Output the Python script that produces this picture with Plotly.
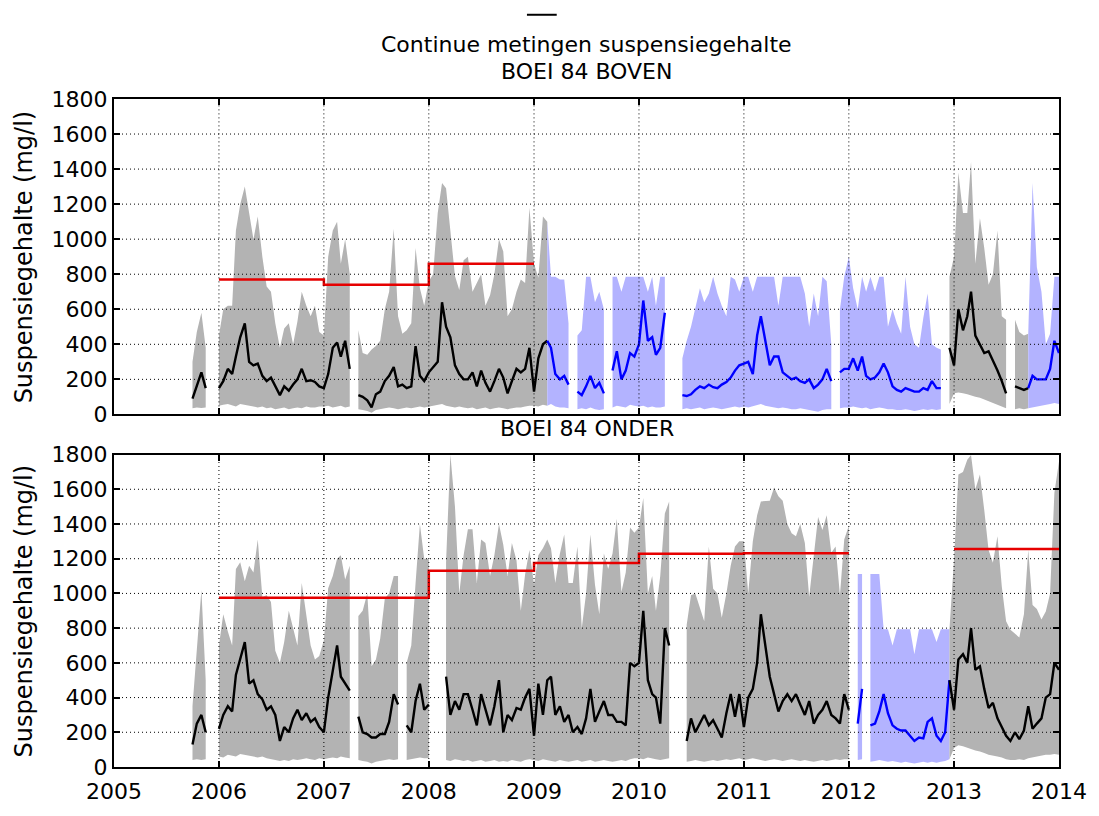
import plotly.graph_objects as go

# ---------------- time grid: 1st and 16th of every month ----------------
grid_dates = [f"{y}-{m:02d}-{d:02d}" for y in range(2005, 2014) for m in range(1, 13)
              for d in (1, 16) if (y, m) >= (2005, 10)] + ["2014-01-01"]

years = list(range(2005, 2015))
y_ticks = list(range(0, 2000, 200))

# ---------------- BOEI 84 BOVEN ----------------
boven_hi = (
    [300, 470, 580, 380, None, None] +
    [450, 600, 620, 620, 1050, 1200, 1300, 1140, 1000, 1130, 900, 730, 700, 520, 380, 490, 520, 400, 530, 700, 620, 560, 620, 470] +
    [450, 900, 1050, 1100, 860, 1000, 800, None, 480, 350, 340, 370, 390, 420, 600, 700, 1060, 560, 460, 480, 520, 950, 720, 620] +
    [760, 800, 1150, 1320, 1290, 1050, 790, 710, 880, 900, 700, 750, 800, 620, 680, 800, 1000, 930, 560, 600, 700, 770, 750, 1180] +
    [860, 780, 1130, 1100, 785, 785, 770, 770, 520, None, 450, 480, 785, 785, 640, 700, 600, None, 785, 785, 700, 785, 785, 785] +
    [785, 785, 700, 785, 620, 785, 785, None, None, None, 320, 420, 500, 600, 720, 640, 690, 785, 690, 620, 560, 785, 770, 700] +
    [785, 785, 700, 785, 785, 785, 785, 785, 620, 785, 785, 785, 785, 785, 690, 500, 690, 560, 785, 760, 400, None, 600, 785] +
    [900, 720, 600, 785, 700, 785, 700, 785, 785, 500, 600, 520, 460, 785, 500, 400, 380, 550, 690, 400, 380, 370, None, 785] +
    [900, 1380, 1150, 1150, 1440, 860, 1120, 950, 740, 800, 1050, 560, 540, None, 540, 470, 450, 460, 1320, 840, 700, 400, 460, 785] +
    [785]
)
boven_mean = (
    [90, 160, 240, 150, None, None] +
    [150, 190, 260, 230, 330, 440, 520, 300, 280, 290, 220, 190, 210, 160, 110, 160, 135, 170, 200, 260, 190, 195, 185, 160] +
    [150, 230, 380, 410, 330, 420, 260, None, 110, 100, 80, 40, 115, 130, 190, 220, 270, 160, 170, 150, 160, 390, 220, 190] +
    [240, 270, 300, 640, 500, 440, 280, 230, 200, 200, 240, 160, 250, 180, 130, 190, 260, 210, 120, 190, 260, 240, 260, 380] +
    [130, 320, 400, 420, 380, 230, 200, 220, 170, None, 130, 110, 160, 220, 150, 180, 120, None, 250, 360, 200, 250, 350, 330] +
    [400, 650, 420, 440, 340, 380, 580, None, None, None, 110, 105, 115, 140, 160, 150, 170, 155, 150, 170, 185, 210, 250, 280] +
    [290, 300, 230, 450, 560, 420, 280, 330, 330, 240, 220, 200, 210, 190, 180, 200, 150, 170, 200, 260, 190, None, 240, 260] +
    [260, 320, 250, 330, 220, 200, 210, 240, 290, 240, 160, 140, 130, 150, 140, 130, 130, 150, 140, 190, 150, 150, None, 380] +
    [280, 600, 480, 560, 700, 450, 400, 350, 360, 310, 250, 190, 120, None, 160, 150, 140, 150, 220, 200, 200, 200, 260, 420] +
    [350]
)
boven_lo = (
    [35, 40, 37, 40, None, None] +
    [50, 55, 60, 50, 45, 60, 55, 50, 45, 40, 45, 35, 40, 30, 35, 40, 30, 35, 40, 35, 45, 40, 40, 45] +
    [45, 50, 40, 45, 50, 40, 45, None, 30, 25, 20, 10, 25, 30, 35, 40, 35, 30, 35, 40, 35, 40, 45, 40] +
    [45, 50, 55, 60, 50, 45, 40, 45, 40, 35, 40, 30, 35, 40, 30, 35, 40, 35, 30, 35, 40, 40, 45, 50] +
    [50, 45, 55, 50, 60, 45, 40, 40, 35, None, 30, 35, 30, 40, 30, 25, 30, None, 40, 50, 45, 40, 55, 50] +
    [45, 50, 40, 45, 40, 40, 45, None, None, None, 30, 35, 30, 35, 40, 30, 35, 40, 35, 30, 35, 40, 45, 40] +
    [45, 40, 50, 55, 60, 50, 45, 40, 35, 40, 35, 30, 30, 35, 30, 25, 20, 15, 25, 30, 30, None, 35, 40] +
    [40, 45, 40, 35, 40, 30, 35, 40, 35, 30, 30, 25, 25, 30, 25, 20, 25, 30, 25, 30, 25, 30, None, 60] +
    [120, 125, 120, 115, 110, 100, 95, 85, 75, 65, 55, 45, 35, None, 30, 35, 30, 35, 40, 45, 50, 55, 60, 65] +
    [60]
)
# periods in which the (substitute) series is shown in blue
boven_blue_periods = [("2009-03-01", "2013-01-01"), ("2013-10-01", "2014-01-02")]
boven_norm_start = ["2006-01-01", "2007-01-01", "2008-01-01", "2009-01-01"]
boven_norm = [770, 740, 860, 860]

# ---------------- BOEI 84 ONDER ----------------
onder_hi = (
    [350, 690, 1020, 500, None, None] +
    [700, 880, 780, 700, 1140, 1180, 1070, 1160, 1120, 1310, 980, 990, 950, 670, 600, 720, 900, 800, 700, 1060, 880, 700, 620, 640] +
    [730, 1030, 1100, 1200, 1220, 1080, 1160, None, 870, 900, 1000, 580, 620, 740, 970, 1000, 1100, 1100, None, 600, 700, 1060, 1400, 1200] +
    [1200, None, None, None, 1180, 1800, 1500, 1000, 1220, 1370, 1370, 1060, 1310, 1290, 1100, 1220, 1400, 1280, 1100, 1290, 1190, 900, 1110, 1250] +
    [1050, 1220, 1260, 1310, 1260, 1060, 1230, 1340, 1060, 1060, 1270, 800, 1000, 1340, 1050, 880, 1230, 1140, 1230, 1430, 1008, 1120, 1380, 1350] +
    [1380, 1550, 1000, 1100, 900, 1100, 1460, 1530, None, None, None, 820, 990, 1000, 915, 840, 1270, 1027, 1000, 860, 1000, 1159, 1270, 1300] +
    [1300, 1000, 1300, 1450, 1530, 1530, 1534, 1610, 1560, 1534, 1400, 1346, 1330, 1400, 1290, 980, 1215, 1440, 1365, 1450, 1234, 1271, 990, 1310] +
    [1390, None, 1112, 1112, None, 1112, 1112, 1112, 793, 793, 700, 793, 793, 793, 793, 650, 793, 793, 793, 793, 720, 793, 793, 793] +
    [1200, 1685, 1700, 1770, 1797, 1600, 1685, 1480, 1250, 1177, 1330, 1040, 840, 790, 770, 746, 880, 1250, 933, 910, 850, 896, 1000, 1580] +
    [1760]
)
onder_mean = (
    [130, 250, 300, 200, None, None] +
    [220, 300, 350, 320, 530, 620, 720, 480, 500, 420, 390, 330, 350, 300, 150, 230, 200, 280, 330, 270, 310, 260, 280, 230] +
    [200, 400, 550, 700, 520, 480, 440, None, 290, 200, 190, 170, 170, 190, 190, 260, 420, 360, None, 240, 200, 380, 480, 330] +
    [360, None, None, None, 520, 300, 380, 330, 420, 420, 330, 240, 420, 330, 240, 350, 500, 200, 300, 270, 340, 330, 400, 450] +
    [180, 480, 300, 500, 520, 300, 350, 260, 300, 200, 230, 190, 280, 450, 260, 320, 380, 300, 300, 260, 260, 240, 600, 580] +
    [600, 900, 500, 420, 400, 250, 800, 700, None, None, None, 150, 280, 200, 250, 300, 240, 270, 220, 170, 310, 420, 290, 420] +
    [230, 400, 450, 600, 880, 700, 520, 420, 320, 380, 420, 380, 420, 360, 300, 380, 250, 300, 330, 380, 300, 280, 250, 420] +
    [330, None, 250, 450, None, 240, 250, 320, 420, 310, 240, 220, 210, 210, 180, 150, 170, 165, 260, 280, 180, 150, 200, 500] +
    [330, 620, 650, 600, 800, 560, 580, 450, 340, 370, 280, 230, 180, 150, 200, 160, 210, 350, 220, 250, 280, 400, 420, 600] +
    [560]
)
onder_lo = (
    [40, 45, 40, 45, None, None] +
    [60, 55, 70, 65, 60, 75, 70, 65, 60, 55, 60, 50, 45, 40, 35, 40, 35, 45, 40, 45, 50, 45, 40, 50] +
    [45, 50, 55, 50, 60, 55, 50, None, 40, 35, 30, 20, 30, 35, 40, 45, 40, 45, None, 40, 45, 50, 55, 50] +
    [50, None, None, None, 40, 35, 45, 40, 35, 40, 30, 35, 40, 30, 35, 40, 30, 35, 30, 40, 35, 30, 40, 45] +
    [40, 35, 45, 40, 35, 30, 40, 35, 30, 35, 40, 30, 35, 40, 30, 35, 40, 35, 30, 35, 40, 35, 45, 50] +
    [50, 45, 55, 50, 45, 40, 45, 50, None, None, None, 30, 35, 40, 35, 30, 35, 40, 35, 40, 45, 40, 45, 50] +
    [40, 45, 50, 45, 40, 35, 40, 45, 40, 35, 40, 45, 40, 35, 40, 35, 30, 35, 40, 35, 40, 45, 40, 45] +
    [45, None, 40, 45, None, 30, 35, 40, 35, 30, 35, 30, 25, 30, 25, 20, 25, 30, 25, 30, 25, 30, 35, 45] +
    [110, 125, 120, 110, 105, 95, 90, 80, 70, 65, 60, 55, 45, 40, 40, 45, 40, 50, 55, 60, 65, 70, 70, 75] +
    [70]
)
onder_blue_periods = [("2012-02-01", "2013-01-01")]
onder_norm_start = ["2006-01-01", "2008-01-01", "2009-01-01", "2010-01-01", "2011-01-01", "2012-01-01", None,
                    "2013-01-01", "2014-01-01"]
onder_norm = [975, 1130, 1175, 1228, 1232, 1232, None, 1256, 1256]

# ---------------- styling ----------------
FONT = "DejaVu Sans"
FS = 22
BAND = {"g": "rgb(179,179,179)", "b": "rgb(179,179,255)"}
LINE = {"g": "black", "b": "rgb(0,0,255)"}
RED = "rgb(230,0,0)"

for arr in (boven_hi, boven_mean, boven_lo, onder_hi, onder_mean, onder_lo):
    assert len(arr) == len(grid_dates), len(arr)


def colour_of(date, periods):
    for a, b in periods:
        if a <= date < b:
            return "b"
    return "g"


def segments(hi, periods):
    segs, cur = [], None
    for i, d in enumerate(grid_dates):
        if hi[i] is None:
            if cur:
                segs.append(cur)
            cur = None
            continue
        c = colour_of(d, periods)
        if cur is None:
            cur = {"c": c, "idx": [i]}
        elif cur["c"] != c:
            segs.append(cur)
            cur = {"c": c, "idx": [i - 1, i]}
        else:
            cur["idx"].append(i)
    if cur:
        segs.append(cur)
    return segs


fig = go.Figure()


def add_panel(hi, mean, lo, periods, norm_x, norm_y, xa, ya):
    segs = segments(hi, periods)
    for s in segs:
        idx = s["idx"]
        xs = [grid_dates[i] for i in idx]
        fig.add_trace(go.Scatter(
            x=xs + xs[::-1], y=[hi[i] for i in idx] + [lo[i] for i in idx][::-1],
            fill="toself", fillcolor=BAND[s["c"]], line=dict(width=0),
            mode="lines", hoverinfo="skip", showlegend=False, xaxis=xa, yaxis=ya))
    for s in segs:
        idx = s["idx"]
        fig.add_trace(go.Scatter(
            x=[grid_dates[i] for i in idx], y=[mean[i] for i in idx],
            mode="lines", line=dict(color=LINE[s["c"]], width=2.4),
            showlegend=False, xaxis=xa, yaxis=ya))
    fig.add_trace(go.Scatter(
        x=norm_x, y=norm_y, mode="lines", line=dict(color=RED, width=2.5, shape="hv"),
        connectgaps=False, showlegend=False, xaxis=xa, yaxis=ya))


add_panel(boven_hi, boven_mean, boven_lo, boven_blue_periods, boven_norm_start, boven_norm, "x", "y")
add_panel(onder_hi, onder_mean, onder_lo, onder_blue_periods, onder_norm_start, onder_norm, "x2", "y2")

# ---------------- layout ----------------
W, H = 1099, 816
L, R, T, B = 114, 33, 99, 35
ph = H - T - B
top_dom = [(H - B - 421) / ph, 1.0]
bot_dom = [0.0, (H - B - 462) / ph]

year_vals = [f"{y}-01-01" for y in years]
axis_common = dict(showline=True, linecolor="black", linewidth=2, mirror="ticks", ticks="inside",
                   ticklen=6, tickwidth=2, tickcolor="black", showgrid=False, zeroline=False,
                   tickfont=dict(family=FONT, size=FS, color="black"))

fig.update_layout(
    width=W, height=H, margin=dict(l=L, r=R, t=T, b=B),
    paper_bgcolor="white", plot_bgcolor="white", showlegend=False,
    xaxis=dict(domain=[0, 1], anchor="y", type="date", range=["2005-01-01", "2014-01-01"],
               tickvals=year_vals, showticklabels=False, **axis_common),
    yaxis=dict(domain=top_dom, anchor="x", range=[0, 1800], tickvals=y_ticks, ticklabelstandoff=0,
               **axis_common),
    xaxis2=dict(domain=[0, 1], anchor="y2", type="date", range=["2005-01-01", "2014-01-01"],
                tickvals=year_vals, ticktext=[str(y) for y in years], ticklabelstandoff=4,
                **axis_common),
    yaxis2=dict(domain=bot_dom, anchor="x2", range=[0, 1800], tickvals=y_ticks, ticklabelstandoff=0,
                **axis_common),
)

# dotted grid drawn above the data (as in the original)
grid_line = dict(color="black", width=1, dash="1px,3px")
for xa, ya in (("x", "y"), ("x2", "y2")):
    for v in y_ticks[1:-1]:
        fig.add_shape(type="line", xref=f"{xa} domain", yref=ya, x0=0, x1=1, y0=v, y1=v,
                      line=grid_line, layer="above")
    for v in year_vals[1:-1]:
        fig.add_shape(type="line", xref=xa, yref=f"{ya} domain", x0=v, x1=v, y0=0, y1=1,
                      line=grid_line, layer="above")


def px_x(px):
    return (px - L) / (W - L - R)


def px_y(py):
    return (H - B - py) / ph


txt = dict(family=FONT, size=FS, color="black")
fig.add_annotation(text="Continue metingen suspensiegehalte", x=0.5, y=px_y(43), xref="paper", yref="paper",
                   showarrow=False, font=txt, xanchor="center", yanchor="middle")
fig.add_annotation(text="BOEI 84 BOVEN", x=0.5, y=px_y(71), xref="paper", yref="paper",
                   showarrow=False, font=txt, xanchor="center", yanchor="middle")
fig.add_annotation(text="BOEI 84 ONDER", x=0.5, y=px_y(435), xref="paper", yref="paper",
                   showarrow=False, font=txt, xanchor="center", yanchor="middle")
for dom in (top_dom, bot_dom):
    fig.add_annotation(text="Suspensiegehalte (mg/l)", x=px_x(23), y=(dom[0] + dom[1]) / 2,
                       xref="paper", yref="paper", showarrow=False, textangle=-90,
                       font=dict(family=FONT, size=24, color="black"), xanchor="center", yanchor="middle")

# legend sample line (legend entry without text)
fig.add_shape(type="line", xref="paper", yref="paper", x0=px_x(530), x1=px_x(560), y0=px_y(13), y1=px_y(13),
              line=dict(color="black", width=2))

fig.write_html("out.html", config={"displayModeBar": False},
               post_script="document.body.style.margin='0';")
